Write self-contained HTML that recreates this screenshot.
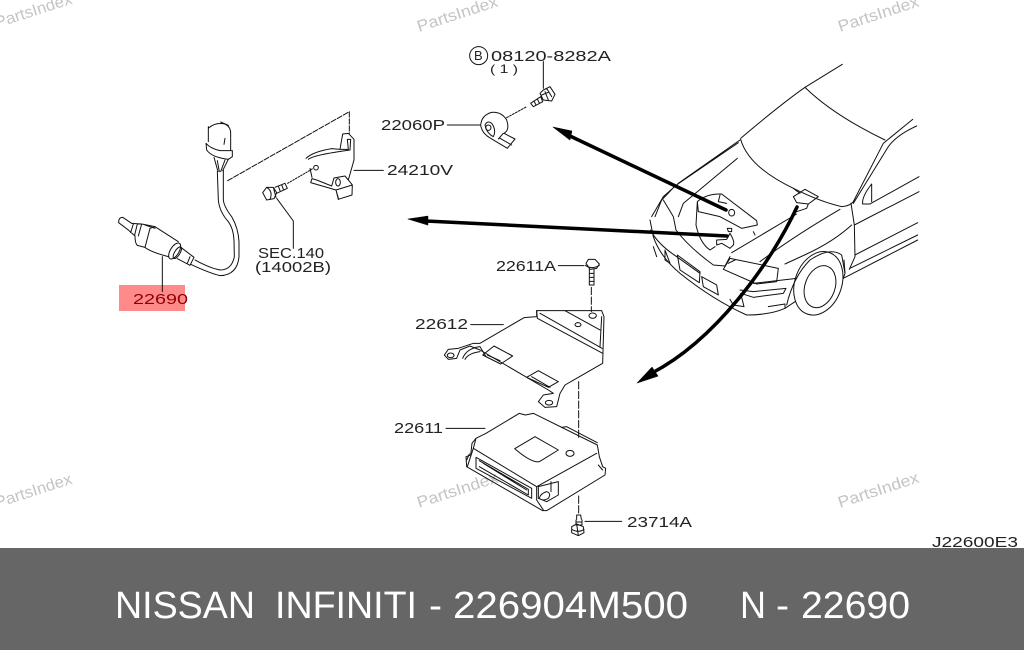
<!DOCTYPE html>
<html><head><meta charset="utf-8"><style>
html,body{margin:0;padding:0;background:#fff}
svg{display:block}
text{font-family:"Liberation Sans",sans-serif}
.l{font-size:15px;fill:#222}
.w{font-size:16px;fill:#c4c4c4}
.b{font-size:38px;fill:#fff}
g.z{fill:none;stroke:#111;stroke-width:3;stroke-linejoin:round;stroke-linecap:round}
</style></head><body>
<svg width="1024" height="650" viewBox="0 0 1024 650" xmlns="http://www.w3.org/2000/svg">
<rect width="1024" height="650" fill="#fff"/>
<!-- watermarks -->
<g class="w">
<text transform="translate(-3,28) rotate(-18)" textLength="80" lengthAdjust="spacingAndGlyphs">PartsIndex</text>
<text transform="translate(419,32) rotate(-18)" textLength="84" lengthAdjust="spacingAndGlyphs">PartsIndex</text>
<text transform="translate(840,32) rotate(-18)" textLength="84" lengthAdjust="spacingAndGlyphs">PartsIndex</text>
<text transform="translate(-3,508) rotate(-18)" textLength="80" lengthAdjust="spacingAndGlyphs">PartsIndex</text>
<text transform="translate(419,508) rotate(-18)" textLength="84" lengthAdjust="spacingAndGlyphs">PartsIndex</text>
<text transform="translate(840,508) rotate(-18)" textLength="84" lengthAdjust="spacingAndGlyphs">PartsIndex</text>
</g>
<!-- highlight -->
<rect x="119" y="285" width="66" height="26" fill="#ff8a8a"/>
<!-- sensor group -->
<g class="z" transform="translate(100,100) scale(.33333)">
<path d="M325 85Q345 66 375 72Q392 80 392 100L392 150M325 80L325 125M362 66L385 76M375 115L372 133"/>
<path d="M318 130Q330 145 360 152L397 152L397 170L385 178Q335 172 320 150Z"/>
<path d="M342 172L354 215M385 178L368 212M352 182L358 215M375 180L362 215"/>
<path d="M352 215L355 300Q358 335 385 365Q400 385 402 420L403 470Q395 510 360 510Q330 505 285 480"/>
<path d="M370 210L370 300Q372 320 395 350Q415 385 417 425L417 470Q412 525 360 527Q330 520 272 493"/>
<path d="M68 352Q55 352 56 368L85 390M68 352L95 370"/>
<path d="M95 370L125 372L165 380M85 390L105 408M100 372L92 398M112 372L104 405M125 372L115 408"/>
<path d="M105 408Q105 430 112 436L135 442L150 385L165 380M135 375L165 385"/>
<path d="M165 380L235 425M135 442Q150 455 205 470"/>
<ellipse cx="224" cy="453" rx="13" ry="27" transform="rotate(32 224 453)"/>
<ellipse cx="232" cy="458" rx="8" ry="20" transform="rotate(32 232 458)"/>
<path d="M240 440L282 472L270 496L232 476M270 470L262 490"/>
<path d="M187 470L187 575"/>
<!-- dashed -->
<path stroke-dasharray="16 5" d="M383 242L748 35L748 100"/>
<!-- bracket -->
<path d="M618 175Q640 155 695 146L720 148L728 102L745 100L762 118L762 180L745 240L757 255L756 285L715 298L708 270L632 248L636 236L650 240L695 258L702 234L735 228L745 240M720 148L745 148L742 118L752 118L750 150Q640 165 625 178M708 270L757 255M716 298L708 270"/>
<ellipse cx="714" cy="247" rx="7" ry="11"/>
<circle cx="648" cy="203" r="7"/>
<path d="M630 205L636 232"/>
<path d="M762 211L850 211"/>
<!-- bolt -->
<path d="M488 278L500 262L520 262L530 278L522 296L500 300ZM500 262Q520 275 510 298M520 262L528 292M525 262L555 250L562 265L530 280M535 258L540 272M545 254L550 268"/>
<path stroke-dasharray="5 4" d="M563 250L640 205"/>
<path d="M530 295L580 363L580 445"/>
</g>
<!-- knock sensor -->
<g class="z" transform="translate(370,35) scale(.33333)">
<circle cx="326" cy="62" r="27"/>
<path d="M520 80L520 160"/>
<path d="M520 165L540 155L555 178L545 198L520 195L510 175ZM515 180L535 172M525 170L535 195M530 160L545 185M482 205L512 185L518 200L490 215ZM492 198L498 210M502 192L508 204"/>
<path d="M232 270L332 270"/>
<path d="M410 248L470 215" stroke-dasharray="6 4"/>
<path d="M332 270Q335 240 365 232Q395 230 410 255Q420 285 402 295L435 312L412 340L362 310Q335 295 332 270ZM345 270Q350 295 370 305Q380 285 365 265Q352 255 345 270M400 295L385 312M390 310L425 330"/>
<circle cx="355" cy="278" r="8"/>
</g>
<!-- ECU group -->
<g class="z" transform="translate(380,250) scale(.33333)">
<path d="M535 47L612 47"/>
<path d="M618 40L625 28L645 28L658 42L650 55L630 58ZM616 46Q635 60 658 46M628 58L628 105L642 105L642 58M628 70L642 70M628 82L642 82M628 94L642 94"/>
<path stroke-dasharray="22 7" d="M634 112L634 185"/>
<path d="M272 224L370 224"/>
<path d="M470 182L665 182L672 200L668 340L555 405L540 430L530 470L495 472L475 455L490 435L520 430L505 420L300 300L270 288L240 300L230 325L205 328L193 315L205 298L235 295L280 280L300 280L432 203L470 200Z"/>
<path d="M470 182L472 205L668 310M480 190L666 295M555 182L660 240M665 200L660 290"/>
<ellipse cx="638" cy="197" rx="11" ry="8"/>
<ellipse cx="594" cy="224" rx="9" ry="6"/>
<ellipse cx="212" cy="316" rx="10" ry="7"/>
<ellipse cx="507" cy="458" rx="11" ry="7"/>
<path d="M248 325Q260 295 300 290L318 320M255 328Q265 310 300 305"/>
<path d="M308 315L342 288L398 318L362 342ZM322 315L360 332"/>
<path d="M440 382L475 362L535 395L505 412ZM455 380L510 412"/>
<path stroke-dasharray="22 7" d="M596 395L596 565"/>
<path d="M198 535L315 535"/>
<path d="M276 580L288 565L318 550L418 490L436 495L460 490L652 585L658 620L668 650L677 655L675 675L500 782L488 782L260 650L258 620L272 615Z"/>
<path d="M288 565L280 595L470 710L650 610M470 710L470 750L490 780M280 595L262 650"/>
<path d="M404 596L465 560L535 600L478 635Q455 640 404 596Z"/>
<ellipse cx="570" cy="610" rx="12" ry="9"/>
<path d="M545 532L560 530L652 578M288 622L455 715L455 745L288 655ZM298 632L445 718L445 735L298 650M310 640L440 720"/>
<path d="M475 710L535 695L535 735L500 755L475 745ZM513 695L513 725M500 725Q515 730 505 745Q488 755 478 745Q482 730 500 725"/>
<path d="M268 612L260 630M655 645L668 660"/>
<path stroke-dasharray="22 7" d="M596 738L596 795"/>
<path d="M590 808L590 795L602 795L604 808M588 810L588 825L606 825L606 810M588 816L606 816M575 830L590 822L610 830L612 848L595 857L575 848ZM590 822L595 857M575 838Q595 850 612 838"/>
<path d="M615 814L725 814"/>
</g>
<!-- car -->
<g class="z" transform="translate(620,60) scale(.33333)">
<path d="M667 13L555 82Q480 135 362 235M555 82Q640 165 795 240"/>
<path d="M362 238Q385 320 520 385Q600 425 665 440Q690 438 700 425L790 250L878 178M700 430L805 260Q830 225 890 198"/>
<path d="M755 372Q725 410 728 432L750 432L897 350M755 372L755 425"/>
<path d="M703 495L897 395M705 585L893 488M690 625L893 525M670 655L893 540"/>
<path d="M693 430L703 495L705 590L688 628M672 600L675 640L670 655"/>
<path d="M360 240L175 370L130 410L95 470M355 248L165 378L125 420L105 470"/>
<path d="M130 420L160 470L168 510Q205 560 280 615L315 618L330 590M352 295Q250 380 190 430L175 470"/>
<path d="M90 480L100 530Q120 590 180 640Q280 720 380 765Q450 765 495 745L525 725"/>
<path d="M92 510Q110 550 170 590L240 640M100 560L110 590M135 570L150 610L135 600Z"/>
<path d="M172 585L240 635L238 668L180 630Z"/>
<path d="M245 650L290 675L295 705L250 680Z"/>
<path d="M335 578L530 462M420 605Q520 530 660 448M495 612L560 582Q640 545 695 495M520 385L540 400"/>
<path d="M330 595L475 625L470 665L410 672L310 628ZM325 610L345 600"/>
<path d="M360 690L400 695L498 685L490 700L400 712L362 700M365 712L372 740L340 735L330 718"/>
<path d="M445 740L495 732L495 745M530 655L400 670"/>
<path d="M500 735Q520 650 570 600Q630 560 665 585L675 640"/>
<ellipse cx="595" cy="670" rx="70" ry="98" transform="rotate(20 595 670)"/>
<ellipse cx="600" cy="680" rx="45" ry="65" transform="rotate(20 600 680)"/>
<path d="M520 410L555 388L595 410L565 432L530 428ZM520 410L530 428M565 432L560 445L530 455"/>
<path d="M232 425Q260 400 305 402L410 482L412 495L365 505L300 470L235 455ZM232 425L228 495Q240 550 270 570L285 560M300 405L295 425L320 430M400 515L405 525"/>
<ellipse cx="335" cy="458" rx="9" ry="10"/>
<path d="M322 505L335 505L335 515L325 515ZM330 520Q345 545 340 555L330 565L305 550L290 555L290 540L320 538Z"/>
</g>
<!-- thick arrows -->
<g fill="#000" stroke="#000" stroke-linecap="round">
<path d="M726 210L570 136" fill="none" stroke-width="3.5"/>
<polygon points="553,127 572,131 570,140" stroke-width=".5"/>
<path d="M727 236L426 221" fill="none" stroke-width="3.5"/>
<polygon points="408,219 428,216 428,225" stroke-width=".5"/>
<path d="M797 207C770 265 715 340 652 373" fill="none" stroke-width="3.5"/>
<polygon points="637,383 652,367 658,376" stroke-width=".5"/>
</g>
<!-- labels -->
<g class="l">
<text x="491" y="61" textLength="120" lengthAdjust="spacingAndGlyphs">08120-8282A</text>
<text x="474" y="60" style="font-size:13px">B</text>
<text x="490" y="73" textLength="28" lengthAdjust="spacingAndGlyphs" style="font-size:12px">( 1 )</text>
<text x="381" y="130" textLength="64" lengthAdjust="spacingAndGlyphs">22060P</text>
<text x="387" y="175" textLength="66" lengthAdjust="spacingAndGlyphs">24210V</text>
<text x="258" y="258" textLength="66" lengthAdjust="spacingAndGlyphs">SEC.140</text>
<text x="255" y="272" textLength="76" lengthAdjust="spacingAndGlyphs">(14002B)</text>
<text x="133" y="304" textLength="55" lengthAdjust="spacingAndGlyphs" style="fill:#900000">22690</text>
<text x="496" y="271" textLength="60" lengthAdjust="spacingAndGlyphs">22611A</text>
<text x="415" y="329" textLength="53" lengthAdjust="spacingAndGlyphs">22612</text>
<text x="394" y="433" textLength="49" lengthAdjust="spacingAndGlyphs">22611</text>
<text x="627" y="527" textLength="65" lengthAdjust="spacingAndGlyphs">23714A</text>
<text x="932" y="547" textLength="86" lengthAdjust="spacingAndGlyphs">J22600E3</text>
</g>
<!-- footer -->
<rect x="0" y="548" width="1024" height="102" fill="#666"/>
<g class="b">
<text class="b" x="115" y="618" textLength="140" lengthAdjust="spacingAndGlyphs">NISSAN</text>
<text class="b" x="275" y="618" textLength="142" lengthAdjust="spacingAndGlyphs">INFINITI</text>
<text class="b" x="429" y="618" textLength="13" lengthAdjust="spacingAndGlyphs">-</text>
<text class="b" x="453" y="618" textLength="235" lengthAdjust="spacingAndGlyphs">226904M500</text>
<text class="b" x="740" y="618" textLength="26" lengthAdjust="spacingAndGlyphs">N</text>
<text class="b" x="776" y="618" textLength="13" lengthAdjust="spacingAndGlyphs">-</text>
<text class="b" x="801" y="618" textLength="109" lengthAdjust="spacingAndGlyphs">22690</text>
</g>
</svg>
</body></html>
